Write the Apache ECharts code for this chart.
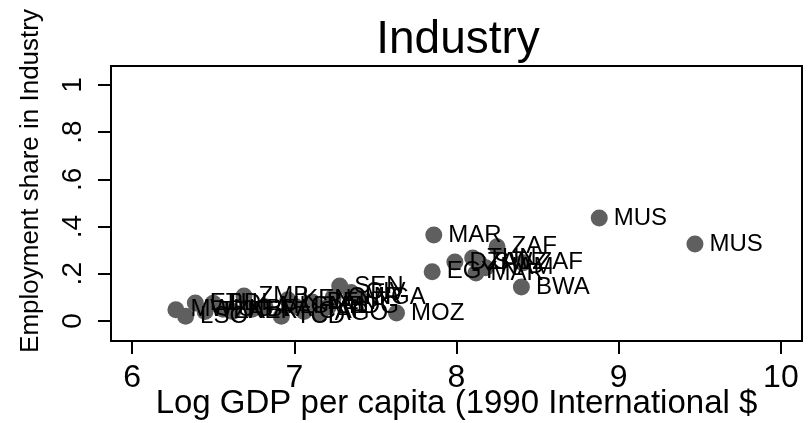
<!DOCTYPE html>
<html>
<head>
<meta charset="utf-8">
<title>Industry</title>
<script src="https://cdn.jsdelivr.net/npm/echarts@6/dist/echarts.min.js"></script>
<style>
html, body { margin: 0; padding: 0; background: #fff; }
#industry { width: 810px; height: 423px; }
</style>
</head>
<body>
<div id="industry"></div>
<script>
// --- data ---
var countries = ['MWI','LSO','ETH','TZA','BDI','UGA','NER','ZMB','BFA','MLI','TCD','KEN','GMB','CAF','BEN','AGO','MDG','CMR','SEN','CIV','NGA','MOZ',
	'EGY','DZA','TUN','SWZ','MAR','NAM','ZAF','ZAF','BWA','MAR','MUS','MUS'];
var logGdp = [6.27, 6.33, 6.39, 6.45, 6.50, 6.56, 6.62, 6.69, 6.74, 6.82, 6.92, 6.96, 7.01, 7.06, 7.11, 7.16, 7.21, 7.24, 7.28, 7.35, 7.40, 7.63,
	7.85, 7.99, 8.10, 8.14, 8.12, 8.18, 8.25, 8.41, 8.40, 7.86, 8.88, 9.47];
var empShare = [0.047, 0.02, 0.076, 0.04, 0.075, 0.05, 0.04, 0.106, 0.05, 0.06, 0.02, 0.09, 0.06, 0.04, 0.08, 0.03, 0.06, 0.10, 0.148, 0.12, 0.10, 0.034,
	0.208, 0.25, 0.267, 0.246, 0.203, 0.225, 0.314, 0.246, 0.144, 0.364, 0.436, 0.326];
var xTicks = [6, 7, 8, 9, 10];
var yTicks = [0, 0.2, 0.4, 0.6, 0.8, 1];

var points = [];
for (var i = 0; i < countries.length; i++) {
	points.push({ name: countries[i], value: [logGdp[i], empShare[i]] });
}

var myChart = echarts.init(document.getElementById('industry'));
myChart.setOption({
	backgroundColor: '#fff',
	animation: false,
	textStyle: { fontFamily: 'Liberation Sans, Arial, sans-serif' },
	title: {
		text: 'Industry',
		left: 453,
		top: 12,
		textAlign: 'center',
		textStyle: { fontSize: 46, fontWeight: 'normal', color: '#000' }
	},
	// y title sits a bit above the plot centre, as in the original
	graphic: [
		{
			type: 'text',
			x: 31,
			y: 181,
			rotation: Math.PI / 2,
			style: {
				text: 'Employment share in Industry',
				fontSize: 26,
				fontFamily: 'Liberation Sans, Arial, sans-serif',
				fill: '#000',
				textAlign: 'center',
				textVerticalAlign: 'middle'
			}
		}
	],
	grid: {
		left: 111, right: 8, top: 66, bottom: 82,
		outerBoundsMode: 'none',
		show: true,
		borderColor: '#000',
		borderWidth: 2
	},
	xAxis: {
		type: 'value',
		min: 5.87,
		max: 10.13,
		name: 'Log GDP per capita (1990 International $',
		nameLocation: 'middle',
		nameMoveOverlap: false,
		nameGap: 46,
		nameTextStyle: { fontSize: 33, color: '#000' },
		splitLine: { show: false },
		axisLine: { show: true, onZero: false, lineStyle: { color: '#000', width: 2 } },
		axisTick: { show: true, length: 13, lineStyle: { color: '#000', width: 2 }, customValues: xTicks },
		axisLabel: { fontSize: 32, color: '#000', margin: 21, customValues: xTicks }
	},
	yAxis: {
		type: 'value',
		min: -0.085,
		max: 1.08,
		splitLine: { show: false },
		axisLine: { show: true, onZero: false, lineStyle: { color: '#000', width: 2 } },
		axisTick: { show: true, length: 13, lineStyle: { color: '#000', width: 2 }, customValues: yTicks },
		axisLabel: {
			fontSize: 28, color: '#000', margin: 24, rotate: 90,
			customValues: yTicks,
			formatter: function (v) {
				if (v === 0) return '0';
				if (v === 1) return '1';
				return String(v).replace(/^0/, '');
			}
		}
	},
	series: [
		{
			name: 'Industry',
			type: 'scatter',
			data: points,
			symbol: 'circle',
			symbolSize: 17,
			itemStyle: { color: '#5f5f5f', opacity: 1 },
			label: {
				show: true,
				position: 'right',
				distance: 6,
				formatter: '{b}',
				fontSize: 24,
				color: '#000'
			}
		}
	]
});
</script>
</body>
</html>
